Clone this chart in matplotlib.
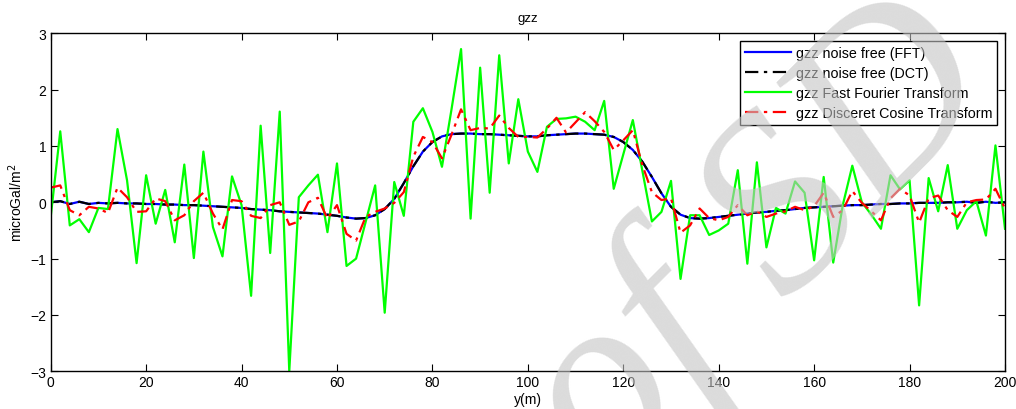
import numpy as np
import matplotlib
matplotlib.use("Agg")
import matplotlib.pyplot as plt

plt.rcParams['font.family'] = ['Liberation Sans', 'DejaVu Sans']

y_pos = np.arange(0, 201, 2)

gzz_noise_free_fft = [
    0.00, 0.02, -0.03, 0.01, -0.03, -0.01, -0.02, -0.01, -0.02, -0.02,
    -0.03, -0.03, -0.04, -0.04, -0.05, -0.05, -0.06, -0.07, -0.08, -0.09,
    -0.10, -0.12, -0.13, -0.14, -0.16, -0.17, -0.18, -0.19, -0.20, -0.22,
    -0.24, -0.27, -0.29, -0.28, -0.23, -0.12, 0.06, 0.34, 0.64, 0.90,
    1.07, 1.17, 1.21, 1.22, 1.22, 1.21, 1.21, 1.20, 1.19, 1.18,
    1.17, 1.17, 1.19, 1.20, 1.21, 1.22, 1.22, 1.21, 1.20, 1.16,
    1.07, 0.93, 0.72, 0.45, 0.16, -0.08, -0.22, -0.28, -0.29, -0.28,
    -0.26, -0.24, -0.22, -0.20, -0.18, -0.17, -0.15, -0.14, -0.12, -0.10,
    -0.09, -0.08, -0.07, -0.06, -0.05, -0.05, -0.04, -0.03, -0.03, -0.02,
    -0.02, -0.01, -0.01, -0.01, 0.00, 0.00, 0.01, -0.01, 0.01, -0.01,
    0.00,
]
gzz_noise_free_dct = list(gzz_noise_free_fft)

gzz_fft = [
    -0.26, 1.26, -0.41, -0.30, -0.53, -0.10, -0.12, 1.30, 0.39, -1.08,
    0.48, -0.38, 0.22, -0.71, 0.67, -0.99, 0.90, -0.44, -0.96, 0.46,
    -0.05, -1.66, 1.36, -0.90, 1.61, -3.00, 0.09, 0.30, 0.49, -0.53,
    0.69, -1.13, -1.00, -0.35, 0.30, -1.96, 0.36, -0.24, 1.43, 1.67,
    1.25, 0.63, 1.65, 2.72, -0.29, 2.39, 0.17, 2.61, 0.69, 1.83,
    0.90, 0.54, 1.34, 1.48, 1.49, 1.52, 1.43, 1.28, 1.80, 0.24,
    0.85, 1.46, 0.56, -0.34, -0.17, 0.38, -1.36, -0.23, -0.23, -0.58,
    -0.50, -0.38, 0.57, -1.09, 0.71, -0.80, -0.10, -0.20, 0.37, 0.17,
    -1.03, 0.45, -1.07, -0.05, 0.65, 0.00, -0.22, -0.47, 0.48, 0.23,
    0.39, -1.83, 0.43, -0.16, 0.66, -0.47, -0.14, 0.02, -0.59, 1.01,
    -0.47,
]

gzz_dct = [
    0.26, 0.30, -0.14, -0.23, -0.08, -0.11, -0.19, 0.26, 0.09, -0.17,
    -0.16, 0.07, 0.02, -0.32, -0.23, 0.02, 0.17, -0.20, -0.48, 0.04,
    0.02, -0.24, -0.28, -0.05, 0.00, -0.40, -0.34, 0.00, 0.08, -0.29,
    -0.05, -0.56, -0.68, -0.26, -0.17, -0.11, -0.01, 0.18, 0.81, 1.16,
    1.07, 0.78, 1.20, 1.65, 1.28, 1.32, 1.31, 1.54, 1.32, 1.16,
    1.16, 1.15, 1.31, 1.50, 1.24, 1.42, 1.60, 1.44, 1.25, 0.93,
    1.10, 1.28, 0.66, 0.18, 0.04, 0.07, -0.54, -0.41, -0.11, -0.28,
    -0.32, -0.26, -0.05, -0.23, -0.16, -0.26, -0.20, -0.16, -0.08, -0.14,
    -0.07, 0.17, -0.26, -0.14, 0.20, -0.01, -0.16, -0.32, 0.07, 0.24,
    0.12, -0.36, 0.07, 0.12, -0.14, -0.26, 0.00, 0.04, 0.05, 0.24,
    -0.11,
]

labels = ["gzz noise free (FFT)", "gzz noise free (DCT)",
          "gzz Fast Fourier Transform", "gzz Disceret Cosine Transform"]
x_ticks = list(range(0, 201, 20))
y_ticks = [-3, -2, -1, 0, 1, 2, 3]

fig = plt.figure(figsize=(10.16, 4.10), dpi=100)
ax = fig.add_axes([50.7 / 1016, 1 - 372.3 / 410, (1005 - 50.7) / 1016, (372.3 - 34.3) / 410])

dashdot = (0, (6, 2.5, 1.5, 2.5))
ax.plot(y_pos, gzz_noise_free_fft, color='#0000ff', lw=1.6, label=labels[0])
ax.plot(y_pos, gzz_noise_free_dct, color='black', lw=1.6, linestyle=dashdot, label=labels[1])
ax.plot(y_pos, gzz_fft, color='#00ff00', lw=1.6, label=labels[2])
ax.plot(y_pos, gzz_dct, color='#ff0000', lw=1.6, linestyle=dashdot, label=labels[3])

ax.set_xlim(0, 200)
ax.set_ylim(-3, 3)
ax.set_xticks(x_ticks)
ax.set_yticks(y_ticks)
ax.tick_params(direction='in', top=True, right=True, length=5, width=0.8,
               labelsize=10, pad=3)
for s in ax.spines.values():
    s.set_linewidth(1.0)

ax.set_title("gzz", fontsize=9.5, pad=9)
ax.set_xlabel("y(m)", fontsize=10, labelpad=2)
ax.set_ylabel("microGal/m$^2$", fontsize=10, labelpad=4)

leg = ax.legend(loc='upper right', fontsize=10.3, frameon=True, fancybox=False,
                edgecolor='black', framealpha=1, borderpad=0.35, labelspacing=0.42,
                handlelength=3.2, handletextpad=0.35, borderaxespad=0.55)
leg.get_frame().set_linewidth(1.0)

fig.text(0.748, 0.405, "of SD", fontsize=180, family='Liberation Serif', style='italic',
         rotation=45, color='#c4c4c4', alpha=0.6, ha='center', va='center', zorder=10)

fig.savefig("out.png", dpi=100)
